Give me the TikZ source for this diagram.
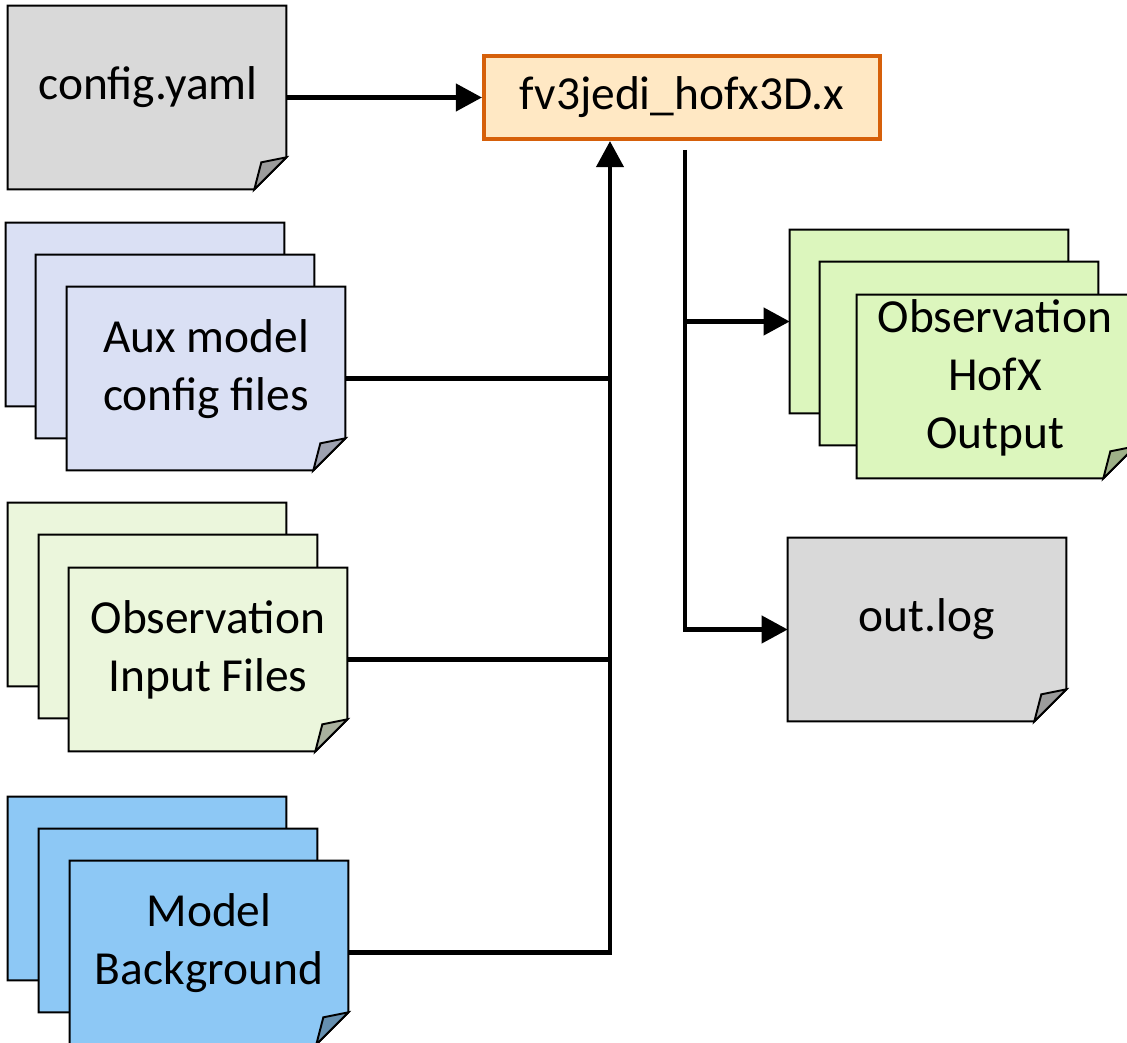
\documentclass[tikz,border=0pt]{standalone}
\usepackage{fontspec}
\setmainfont{Carlito}
\usetikzlibrary{arrows.meta}

\definecolor{sheetgray}{HTML}{D9D9D9}
\definecolor{sheetlilac}{HTML}{DAE0F4}
\definecolor{sheetpale}{HTML}{EBF6DC}
\definecolor{sheetlime}{HTML}{DCF6BD}
\definecolor{sheetblue}{HTML}{8DC8F5}
\definecolor{exefill}{HTML}{FFE8C4}
\definecolor{exeline}{HTML}{D6600A}

\newcommand{\foldsize}{0.64cm}
% sheet with a folded bottom-right corner: name, position, colour
\newcommand{\docsheet}[3]{%
  \node[sheet] (#1) at (#2) {};
  \filldraw[sheet outline, fill=#3]
    (#1.north west) -- (#1.north east) -- ([yshift=\foldsize]#1.south east)
    -- ([xshift=-\foldsize]#1.south east) -- (#1.south west) -- cycle;
  \filldraw[sheet outline, fill=#3!72!black]
    ([yshift=\foldsize]#1.south east) -- ([xshift=-\foldsize]#1.south east)
    -- ([xshift=-0.5cm, yshift=0.54cm]#1.south east) -- cycle;
}

\begin{document}
\begin{tikzpicture}[
    x=0.02cm, y=-0.02cm,
    sheet/.style={rectangle, minimum width=5.56cm, minimum height=3.66cm, inner sep=0pt},
    sheet outline/.style={draw=black, line width=1.1pt, line join=miter},
    doc text/.style={font=\fontsize{27}{33}\selectfont, align=center},
    exe/.style={draw=exeline, fill=exefill, line width=2.4pt,
        minimum width=7.92cm, minimum height=1.66cm, inner sep=0pt,
        font=\fontsize{27}{33}\selectfont},
    link/.style={line width=2.4pt, black},
    flow/.style={link, -{Triangle[length=5.2mm, width=5.4mm]}}
]
\useasboundingbox (0,0) rectangle (1127,1043);

% Inputs
\docsheet{config}{147,97.5}{sheetgray}
\node[doc text] (configtext) at (148,87) {config.yaml};

\docsheet{aux1}{145,314.5}{sheetlilac}
\docsheet{aux2}{175,346.5}{sheetlilac}
\docsheet{aux3}{206,378.5}{sheetlilac}
\node[doc text] (auxtext) at (206,369) {Aux model\\config files};

\docsheet{obs1}{147,594.5}{sheetpale}
\docsheet{obs2}{178,626.5}{sheetpale}
\docsheet{obs3}{208,659.5}{sheetpale}
\node[doc text] (obstext) at (208,650) {Observation\\Input Files};

\docsheet{bg1}{147,888.5}{sheetblue}
\docsheet{bg2}{178,920.5}{sheetblue}
\docsheet{bg3}{209,952.5}{sheetblue}
\node[doc text] (bgtext) at (209,943) {Model\\Background};

% Executable
\node[exe] (fv3) at (682,97.5) {fv3jedi\_hofx3D.x};

% Outputs
\docsheet{out1}{929,321.5}{sheetlime}
\docsheet{out2}{959,353.5}{sheetlime}
\docsheet{out3}{996,386.5}{sheetlime}
\node[doc text] (outtext) at (995,378) {Observation\\HofX\\Output};

\docsheet{log}{927,629.5}{sheetgray}
\node[doc text] (logtext) at (927,619) {out.log};

% Connectors
\coordinate (merge) at (610,952.5);
\coordinate (split) at (685,150);

\draw[flow] (config.east) -- (fv3.west);
\draw[link] (aux3.east) -- (aux3.east -| merge);
\draw[link] (obs3.east) -- (obs3.east -| merge);
\draw[flow] (bg3.east) -- (merge) -- (merge |- fv3.south);

\draw[flow] (split) |- (log.west);
\draw[flow] (split |- out1.west) -- (out1.west);

\end{tikzpicture}
\end{document}
